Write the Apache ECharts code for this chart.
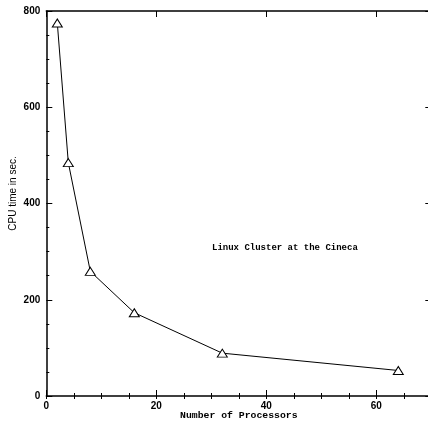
<!DOCTYPE html>
<html>
<head>
<meta charset="utf-8">
<script src="https://cdn.jsdelivr.net/npm/echarts@6/dist/echarts.min.js"></script>
<style>
html,body{margin:0;padding:0;background:#fff;}
#chart{width:428px;height:426px;}
</style>
</head>
<body>
<div id="chart"></div>
<script>
const processors = [2, 4, 8, 16, 32, 64];
const cpuTime = [775, 485, 259, 173, 89, 53];
const xTicks = [0, 20, 40, 60];
const yTicks = [0, 200, 400, 600, 800];
const xTitle = 'Number of Processors';
const yTitle = 'CPU time in sec.';
const note = 'Linux Cluster at the Cineca';

const chart = echarts.init(document.getElementById('chart'), null, {renderer: 'canvas'});
const lbl = {fontFamily: 'Liberation Sans, Arial, sans-serif', fontWeight: 'bold', fontSize: 10, color: '#000'};
const axLine = {show: true, onZero: false, lineStyle: {color: '#000', width: 1.5}};

function xAxisDef(pos, major) {
  return {
    type: 'value', position: pos, min: 0, max: 70, interval: major ? 20 : 5,
    axisLine: major ? axLine : {show: false},
    axisTick: {show: true, inside: true, length: major ? 6 : 3, lineStyle: {color: '#000', width: 1}},
    axisLabel: {show: major && pos === 'bottom', margin: 5, ...lbl,
      formatter: v => xTicks.includes(v) ? String(v) : ''},
    splitLine: {show: false},
    name: major && pos === 'bottom' ? xTitle : '',
    nameLocation: 'middle', nameGap: 15, nameMoveOverlap: false,
    nameTextStyle: {fontFamily: 'Liberation Mono, monospace', fontWeight: 'bold', fontSize: 9.8, color: '#000', verticalAlign: 'top'}
  };
}
function yAxisDef(pos) {
  return {
    type: 'value', position: pos, min: 0, max: 800, interval: 200,
    axisLine: axLine,
    axisTick: {show: true, inside: true, length: 6, lineStyle: {color: '#000', width: 1}},
    minorTick: {show: true, splitNumber: 4, length: 3, lineStyle: {color: '#000', width: 1}},
    axisLabel: {show: pos === 'left', margin: 6, ...lbl,
      formatter: v => yTicks.includes(v) ? String(v) : ''},
    splitLine: {show: false}, minorSplitLine: {show: false}
  };
}

chart.setOption({
  animation: false,
  backgroundColor: '#fff',
  grid: {left: 46.3, top: 11, width: 385, height: 385, containLabel: false, outerBoundsMode: 'none'},
  xAxis: [xAxisDef('bottom', true), xAxisDef('bottom', false), xAxisDef('top', true), xAxisDef('top', false)],
  yAxis: [yAxisDef('left'), yAxisDef('right')],
  graphic: [
    {type: 'text', left: 286 - 74, top: 243,
      style: {text: note, fontFamily: 'Liberation Mono, monospace', fontWeight: 'bold', fontSize: 9, fill: '#000'}},
    {type: 'text', x: 13, y: 193.5, rotation: Math.PI / 2,
      style: {text: yTitle, fontFamily: 'Liberation Sans, Arial, sans-serif', fontSize: 10, fill: '#000', align: 'center', verticalAlign: 'middle'}}
  ],
  series: [{
    type: 'line',
    xAxisIndex: 0, yAxisIndex: 0,
    data: processors.map((p, i) => [p, cpuTime[i]]),
    symbol: 'triangle', symbolSize: [10, 8],
    showAllSymbol: true,
    lineStyle: {color: '#000', width: 1},
    itemStyle: {color: '#fff', borderColor: '#000', borderWidth: 1},
    emphasis: {disabled: true}
  }]
});
</script>
</body>
</html>
